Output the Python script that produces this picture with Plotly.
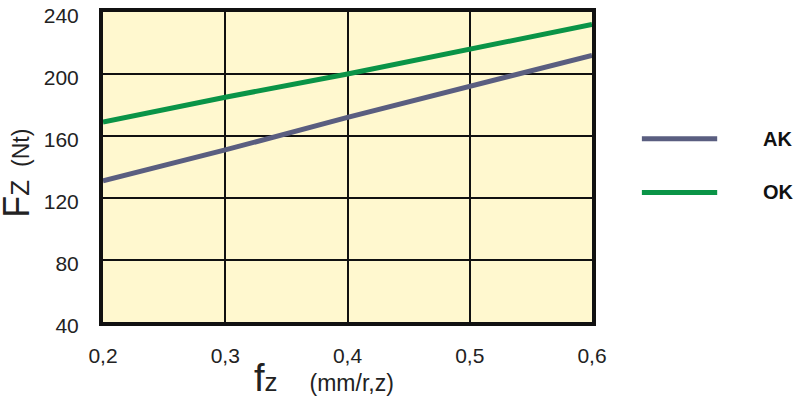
import plotly.graph_objects as go

fz = [0.2, 0.3, 0.4, 0.5, 0.6]
ak = [131, 151, 172, 192, 212]
ok = [169, 185, 200, 216, 232]
x_ticks = [0.2, 0.3, 0.4, 0.5, 0.6]
x_tick_labels = ["0,2", "0,3", "0,4", "0,5", "0,6"]
y_ticks = [40, 80, 120, 160, 200, 240]
series_names = ["AK", "OK"]
series_colors = ["#5A5E80", "#0A9447"]

FONT = "Liberation Sans, Arial, sans-serif"

fig = go.Figure()
for name, vals, col in zip(series_names, [ak, ok], series_colors):
    fig.add_trace(go.Scatter(x=fz, y=vals, mode="lines", name=name,
                             line=dict(color=col, width=5), showlegend=False))

# custom legend (long line samples)
for i, (name, col) in enumerate(zip(series_names, series_colors)):
    yp = [0.591, 0.418][i]
    fig.add_shape(type="line", xref="paper", yref="paper", x0=1.102, x1=1.256, y0=yp, y1=yp,
                  line=dict(color=col, width=5))
    fig.add_annotation(xref="paper", yref="paper", x=1.345, y=yp, text="<b>%s</b>" % name,
                       showarrow=False, xanchor="left", yanchor="middle",
                       font=dict(family=FONT, size=20, color="#111"))

fig.add_annotation(xref="paper", yref="paper", x=-0.177, y=0.48, textangle=-90,
                   text="F<span style='font-size:26px'>Z</span>"
                        "<span style='font-size:23px'>  (Nt)</span>",
                   showarrow=False, xanchor="center", yanchor="middle",
                   font=dict(family=FONT, size=36, color="#222"))
fig.add_annotation(xref="paper", yref="paper", x=0.452, y=-0.252,
                   text="f<span style='font-size:26px'>z</span>"
                        "<span style='font-size:23px'>     (mm/r,z)</span>",
                   showarrow=False, xanchor="center", yanchor="bottom", borderpad=0,
                   font=dict(family=FONT, size=38, color="#222"))

fig.update_layout(
    width=795, height=399,
    margin=dict(l=103, r=203, t=4, b=77),
    paper_bgcolor="white", plot_bgcolor="#FFF8CF",
    font=dict(family=FONT, size=21, color="#222"),
)
fig.update_xaxes(range=[0.2, 0.6], tickvals=x_ticks, ticktext=x_tick_labels,
                 showgrid=True, gridcolor="#111", gridwidth=2,
                 showline=True, linecolor="#111", linewidth=4, mirror=True,
                 ticks="", ticklabelstandoff=12, zeroline=False)
fig.update_yaxes(range=[40, 240], tickvals=y_ticks,
                 showgrid=True, gridcolor="#111", gridwidth=2,
                 showline=True, linecolor="#111", linewidth=4, mirror=True,
                 ticks="", ticklabelstandoff=16, ticklabelshift=4, zeroline=False)

fig.write_html("out.html", config={"displayModeBar": False},
               post_script="document.body.style.margin='0';document.body.style.padding='0';")
